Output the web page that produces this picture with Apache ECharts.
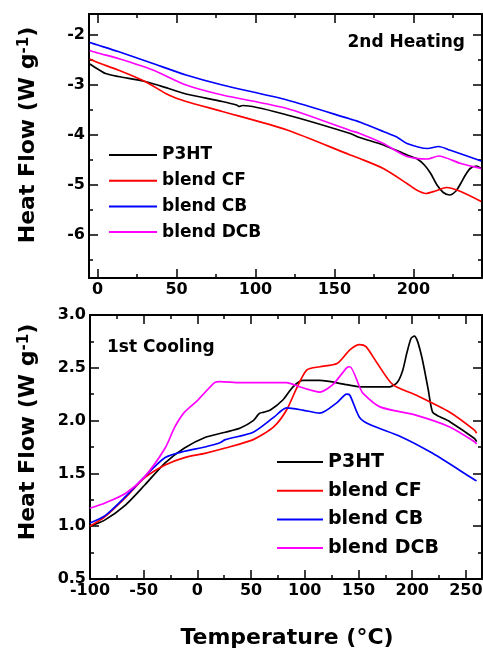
<!DOCTYPE html>
<html>
<head>
<meta charset="utf-8">
<script src="https://cdn.jsdelivr.net/npm/echarts@6/dist/echarts.min.js"></script>
<style>html,body{margin:0;padding:0;background:#fff}#c{width:483px;height:650px}</style>
</head>
<body>
<div id="c"></div>
<script>
// ---------- DATA ----------
const seriesNames = ['P3HT', 'blend CF', 'blend CB', 'blend DCB'];
const seriesColors = ['#000000', '#ff0000', '#0000ff', '#ff00ff'];

// 2nd heating: [Temperature (°C), Heat flow (W/g)]
const heatP3HT = [[-5,-2.58],[0,-2.68],[5,-2.77],[13,-2.83],[30,-2.93],[45,-3.07],[56,-3.18],[79,-3.33],[88,-3.4],[89.5,-3.43],[92,-3.41],[120,-3.6],[160,-3.97],[166,-4.05],[181,-4.2],[196,-4.4],[202,-4.47],[207,-4.6],[211,-4.77],[215,-5.0],[219,-5.15],[223,-5.2],[227,-5.12],[230,-4.97],[233,-4.8],[236,-4.67],[240,-4.62],[243,-4.67]];
const heatCF = [[-5,-2.48],[0,-2.55],[13,-2.7],[30,-2.93],[45,-3.2],[56,-3.33],[79,-3.53],[120,-3.9],[160,-4.4],[166,-4.47],[181,-4.67],[196,-4.97],[202,-5.1],[208,-5.17],[214,-5.12],[221,-5.05],[230,-5.13],[243,-5.33]];
const heatCB = [[-5,-2.15],[0,-2.2],[13,-2.33],[35,-2.57],[56,-2.8],[79,-3.0],[120,-3.3],[160,-3.68],[166,-3.74],[181,-3.93],[190,-4.05],[196,-4.17],[209,-4.27],[216,-4.23],[223,-4.3],[243,-4.52]];
const heatDCB = [[-5,-2.31],[0,-2.36],[13,-2.47],[35,-2.7],[56,-3.0],[79,-3.2],[120,-3.47],[160,-3.91],[166,-3.97],[181,-4.17],[196,-4.43],[209,-4.48],[216,-4.42],[230,-4.57],[243,-4.67]];

// 1st cooling
const coolP3HT = [[-100,1.0],[-86,1.06],[-67,1.2],[-49,1.39],[-30,1.6],[-12,1.74],[7,1.84],[26,1.89],[40,1.93],[52,2.0],[56,2.05],[58,2.07],[62,2.08],[68,2.1],[80,2.2],[89,2.32],[98,2.38],[114,2.38],[139,2.34],[151,2.32],[179,2.32],[186,2.36],[191,2.47],[195,2.64],[199,2.78],[202,2.8],[205,2.75],[209,2.6],[212,2.45],[215,2.29],[219,2.08],[225,2.04],[235,1.99],[258,1.83],[260,1.8]];
const coolCF = [[-100,1.0],[-86,1.09],[-67,1.27],[-49,1.46],[-30,1.58],[-12,1.65],[7,1.69],[26,1.74],[52,1.82],[71,1.94],[83,2.1],[93,2.32],[102,2.48],[114,2.51],[130,2.54],[142,2.67],[151,2.72],[157,2.7],[167,2.55],[182,2.34],[204,2.24],[235,2.08],[258,1.91],[260,1.88]];
const coolCB = [[-100,1.03],[-86,1.1],[-67,1.28],[-49,1.47],[-30,1.65],[-12,1.71],[7,1.75],[21,1.79],[26,1.82],[52,1.89],[71,2.03],[83,2.12],[98,2.1],[114,2.07],[130,2.17],[139,2.25],[142,2.24],[151,2.03],[161,1.96],[189,1.85],[219,1.69],[258,1.44],[260,1.43]];
const coolDCB = [[-100,1.17],[-86,1.22],[-67,1.31],[-49,1.47],[-30,1.74],[-21,1.94],[-12,2.08],[0,2.19],[16,2.36],[21,2.37],[40,2.36],[83,2.36],[95,2.32],[105,2.29],[114,2.27],[126,2.34],[139,2.5],[142,2.51],[151,2.32],[154,2.26],[170,2.13],[204,2.05],[235,1.94],[258,1.8],[260,1.78]];

// tick values
const heatXMajor = [0, 50, 100, 150, 200];
const heatXMinor = [25, 75, 125, 175, 225];
const heatYMajor = [-6, -5, -4, -3, -2];
const heatYMinor = [-6.5, -5.5, -4.5, -3.5, -2.5];
const coolXMajor = [-100, -50, 0, 50, 100, 150, 200, 250];
const coolXMinor = [-75, -25, 25, 75, 125, 175, 225];
const coolYMajor = [0.5, 1.0, 1.5, 2.0, 2.5, 3.0];
const coolYMinor = [0.75, 1.25, 1.75, 2.25, 2.75];

// ---------- CHART ----------
const FONT = 'DejaVu Sans';
function axes(dim, gridIndex, min, max, major, minor, fmt) {
  const pos = dim === 'x' ? ['bottom', 'top'] : ['left', 'right'];
  const list = [];
  const mk = (position, ticks, len, showLine, showLabel) => ({
    type: 'value', gridIndex, min, max, position,
    axisLine: { show: showLine, onZero: false, lineStyle: { color: '#000', width: 2 } },
    axisTick: { show: true, inside: true, length: len, customValues: ticks, lineStyle: { color: '#000', width: 1.5 } },
    axisLabel: { show: showLabel, customValues: ticks, margin: 4, color: '#000', fontFamily: FONT, fontWeight: 'bold', fontSize: 16, formatter: fmt },
    splitLine: { show: false }, minorTick: { show: false }
  });
  list.push(mk(pos[0], major, 9, true, true));
  list.push(mk(pos[1], major, 9, true, false));
  list.push(mk(pos[0], minor, 4, false, false));
  list.push(mk(pos[1], minor, 4, false, false));
  return list;
}
const xAxes = axes('x', 0, -5.5, 243.5, heatXMajor, heatXMinor, v => String(v))
  .concat(axes('x', 1, -100, 265, coolXMajor, coolXMinor, v => String(v)));
const yAxes = axes('y', 0, -6.86, -1.58, heatYMajor, heatYMinor, v => String(v))
  .concat(axes('y', 1, 0.5, 3.0, coolYMajor, coolYMinor, v => v.toFixed(1)));

const heatData = [heatP3HT, heatCF, heatCB, heatDCB];
const coolData = [coolP3HT, coolCF, coolCB, coolDCB];
const series = [];
heatData.forEach((d, i) => series.push({
  type: 'line', name: seriesNames[i], xAxisIndex: 0, yAxisIndex: 0, data: d,
  symbol: 'none', smooth: 0.25, color: seriesColors[i],
  lineStyle: { color: seriesColors[i], width: 1.7 }
}));
coolData.forEach((d, i) => series.push({
  type: 'line', name: seriesNames[i], xAxisIndex: 4, yAxisIndex: 4, data: d,
  symbol: 'none', smooth: 0.25, color: seriesColors[i],
  lineStyle: { color: seriesColors[i], width: 1.7 }
}));

function yTitle(x, y) {
  return {
    type: 'text', x, y, rotation: Math.PI / 2,
    style: {
      text: '{m|Heat Flow (W g}{s|-1}{m|)}',
      align: 'center', verticalAlign: 'middle',
      rich: {
        m: { fontFamily: FONT, fontWeight: 'bold', fontSize: 22, fill: '#000', verticalAlign: 'bottom' },
        s: { fontFamily: FONT, fontWeight: 'bold', fontSize: 15, fill: '#000', verticalAlign: 'top' }
      }
    }
  };
}

const chart = echarts.init(document.getElementById('c'), null, { renderer: 'canvas' });
chart.setOption({
  animation: false,
  backgroundColor: '#fff',
  grid: [
    { left: 89, right: 1, top: 14, height: 264, containLabel: false, outerBoundsMode: 'none' },
    { left: 90, right: 1, top: 315, height: 264, containLabel: false, outerBoundsMode: 'none' }
  ],
  xAxis: xAxes,
  yAxis: yAxes,
  legend: [
    { data: seriesNames, orient: 'vertical', left: 109, top: 145, padding: 0, icon: 'rect', itemWidth: 48, itemHeight: 2, itemGap: 5.7,
      textStyle: { fontFamily: FONT, fontWeight: 'bold', fontSize: 17, lineHeight: 20, color: '#000' }, selectedMode: false },
    { data: seriesNames, orient: 'vertical', left: 277, top: 452, padding: 0, icon: 'rect', itemWidth: 46, itemHeight: 2, itemGap: 8.7,
      textStyle: { fontFamily: FONT, fontWeight: 'bold', fontSize: 19, lineHeight: 20, color: '#000' }, selectedMode: false }
  ],
  graphic: [
    yTitle(28, 135),
    yTitle(28, 432),
    { type: 'text', x: 287, y: 638, style: { text: 'Temperature (°C)', align: 'center', verticalAlign: 'middle',
      fontFamily: FONT, fontWeight: 'bold', fontSize: 22, fill: '#000' } },
    { type: 'text', x: 465, y: 43, style: { text: '2nd Heating', align: 'right', verticalAlign: 'middle',
      fontFamily: FONT, fontWeight: 'bold', fontSize: 17, fill: '#000' } },
    { type: 'text', x: 107, y: 348, style: { text: '1st Cooling', align: 'left', verticalAlign: 'middle',
      fontFamily: FONT, fontWeight: 'bold', fontSize: 17, fill: '#000' } }
  ],
  series
});
</script>
</body>
</html>
